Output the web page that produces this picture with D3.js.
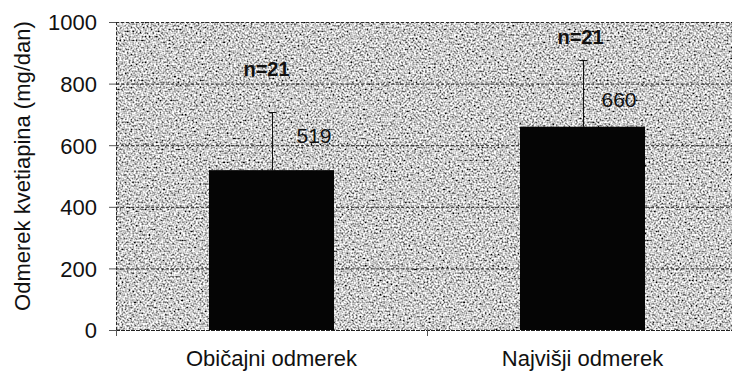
<!DOCTYPE html>
<html>
<head>
<meta charset="utf-8">
<script src="https://cdn.jsdelivr.net/npm/d3@7/dist/d3.min.js"></script>
<style>
  html, body { margin: 0; padding: 0; background: #fff; }
  svg { display: block; font-family: "Liberation Sans", Arial, sans-serif; }
</style>
</head>
<body>
<svg id="chart" width="732" height="373"></svg>
<script>
// Dose groups and mean daily quetiapine dose with standard deviation
const categories = ["Običajni odmerek", "Najvišji odmerek"];
const meanDose = [519, 660];
const sdDose = [189, 217];
const sampleSize = [21, 21];
const yTicks = [0, 200, 400, 600, 800, 1000];

const svg = d3.select("#chart");
const W = 732, H = 373;
const plot = { left: 116, top: 22, right: 738, bottom: 330 };
const FONT = "Liberation Sans, Arial, sans-serif";

const x = d3.scaleBand().domain(categories)
  .range([plot.left, plot.right]).paddingInner(0).paddingOuter(0);
const y = d3.scaleLinear().domain([0, 1000]).range([plot.bottom, plot.top]);

// Speckled grey fill for the plot area
const defs = svg.append("defs");
const f = defs.append("filter").attr("id", "speckle")
  .attr("x", 0).attr("y", 0).attr("width", 1).attr("height", 1)
  .attr("filterUnits", "objectBoundingBox");
f.append("feTurbulence").attr("type", "fractalNoise")
  .attr("baseFrequency", 0.55).attr("numOctaves", 1).attr("seed", 7)
  .attr("result", "noise");
f.append("feColorMatrix").attr("in", "noise").attr("type", "matrix")
  .attr("values",
    "2.4 0 0 0 -0.6  2.4 0 0 0 -0.6  2.4 0 0 0 -0.6  0 0 0 0 1");

svg.append("clipPath").attr("id", "clipAll")
  .append("rect").attr("width", W).attr("height", H);

const g = svg.append("g").attr("clip-path", "url(#clipAll)");

g.append("rect")
  .attr("x", plot.left).attr("y", plot.top)
  .attr("width", plot.right - plot.left).attr("height", plot.bottom - plot.top)
  .attr("fill", "#a6a6a6")
  .attr("filter", "url(#speckle)");

// Horizontal gridlines
g.append("g").selectAll("line")
  .data(yTicks.filter(d => d > 0))
  .join("line")
  .attr("x1", plot.left).attr("x2", plot.right)
  .attr("y1", d => y(d) + 0.5).attr("y2", d => y(d) + 0.5)
  .attr("stroke", "#2a2a2a").attr("stroke-width", 1)
  .attr("stroke-dasharray", "3,2");

// Left plot border
g.append("line")
  .attr("x1", plot.left + 0.5).attr("x2", plot.left + 0.5)
  .attr("y1", plot.top).attr("y2", plot.bottom)
  .attr("stroke", "#2a2a2a").attr("stroke-dasharray", "3,2");

// Bars
const barW = 125;
g.append("g").selectAll("rect")
  .data(categories)
  .join("rect")
  .attr("x", (d, i) => x(d) + x.bandwidth() / 2 - barW / 2)
  .attr("y", (d, i) => y(meanDose[i]))
  .attr("width", barW)
  .attr("height", (d, i) => y(0) - y(meanDose[i]))
  .attr("fill", "#050505");

// Error bars (upper whisker)
const eb = g.append("g");
categories.forEach((c, i) => {
  const cx = Math.round(x(c) + x.bandwidth() / 2) + 0.5;
  const top = y(meanDose[i] + sdDose[i]);
  eb.append("line").attr("x1", cx).attr("x2", cx)
    .attr("y1", y(meanDose[i])).attr("y2", top)
    .attr("stroke", "#111").attr("stroke-width", 1);
  eb.append("line").attr("x1", cx - 4).attr("x2", cx + 4)
    .attr("y1", Math.round(top) + 0.5).attr("y2", Math.round(top) + 0.5)
    .attr("stroke", "#111").attr("stroke-width", 1);
});

// Value labels
const valOffset = [{dx: 25, dy: -27}, {dx: 19, dy: -20}];
g.append("g").selectAll("text")
  .data(categories)
  .join("text")
  .attr("x", (d, i) => x(d) + x.bandwidth() / 2 + valOffset[i].dx)
  .attr("y", (d, i) => y(meanDose[i]) + valOffset[i].dy)
  .attr("font-size", 21).attr("fill", "#111")
  .text((d, i) => meanDose[i]);

// Sample size labels
const nOffset = [{dx: -5, dy: -36}, {dx: -2, dy: -16}];
g.append("g").selectAll("text")
  .data(categories)
  .join("text")
  .attr("x", (d, i) => x(d) + x.bandwidth() / 2 + nOffset[i].dx)
  .attr("y", (d, i) => y(meanDose[i] + sdDose[i]) + nOffset[i].dy)
  .attr("text-anchor", "middle")
  .attr("font-size", 20).attr("font-weight", "bold").attr("fill", "#111")
  .text((d, i) => "n=" + sampleSize[i]);

// Y axis
const yAxis = d3.axisLeft(y).tickValues(yTicks).tickSize(7).tickPadding(12)
  .tickFormat(d3.format("d"));
const ya = svg.append("g").attr("transform", `translate(${plot.left},0)`).call(yAxis);
ya.select(".domain").remove();
ya.selectAll(".tick line").attr("stroke", "#555");
ya.selectAll(".tick text")
  .attr("font-size", 22).attr("font-family", FONT)
  .attr("fill", "#111").attr("dy", "0.36em");

// X axis
const xa = svg.append("g").attr("transform", `translate(0,${plot.bottom})`);
xa.append("line").attr("x1", plot.left).attr("x2", W)
  .attr("y1", 0.5).attr("y2", 0.5).attr("stroke", "#222")
  .attr("stroke-dasharray", "4,1");
xa.selectAll("line.tk")
  .data([plot.left, plot.left + x.bandwidth()])
  .join("line").attr("class", "tk")
  .attr("x1", d => d + 0.5).attr("x2", d => d + 0.5)
  .attr("y1", 0).attr("y2", 6).attr("stroke", "#555");
xa.selectAll("text")
  .data(categories)
  .join("text")
  .attr("x", d => x(d) + x.bandwidth() / 2)
  .attr("y", 36)
  .attr("text-anchor", "middle")
  .attr("font-size", 22).attr("fill", "#111")
  .text(d => d);

// Y axis title
svg.append("text")
  .attr("transform", `translate(30,166) rotate(-90)`)
  .attr("text-anchor", "middle")
  .attr("font-size", 22).attr("fill", "#111")
  .text("Odmerek kvetiapina (mg/dan)");
</script>
</body>
</html>
